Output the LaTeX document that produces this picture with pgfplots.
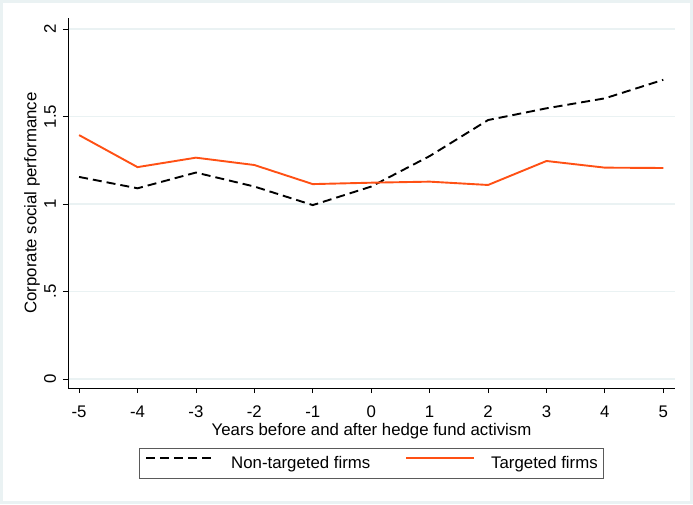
\documentclass[border=0pt]{standalone}
\usepackage{pgfplots}
\pgfplotsset{compat=1.18}
\usepackage{fontspec}
\setmainfont{Liberation Sans}
\definecolor{stgrid}{RGB}{234,242,243}
\definecolor{storange}{RGB}{255,80,20}
\definecolor{stframe}{RGB}{90,90,90}
\begin{document}
\fontsize{16.8}{20}\selectfont
\begin{tikzpicture}
\fill[stgrid] (-68pt,-116pt) rectangle (625pt,388pt);
\fill[white] (-65pt,-113pt) rectangle (622pt,385pt);
\path[use as bounding box] (-68pt,-116pt) rectangle (625pt,388pt);
\begin{axis}[
  scale only axis, width=607pt, height=370pt,
  xmin=-5.19, xmax=5.2, ymin=-0.051, ymax=2.063,
  axis x line*=bottom, axis y line*=left,
  axis line style={-, line width=0.8pt, black},
  xtick={-5,-4,-3,-2,-1,0,1,2,3,4,5},
  ytick={0,0.5,1,1.5,2}, yticklabels={0,.5,1,1.5,2},
  tick align=outside, major tick length=5pt,
  tick style={black, line width=0.8pt},
  ymajorgrids, grid style={stgrid, line width=1.2pt},
  /pgf/number format/assume math mode=true,
  xticklabel style={anchor=base, inner sep=0pt, yshift=-24pt},
  yticklabel shift=7pt,
  yticklabel style={rotate=90, anchor=base, inner sep=0pt},
  every axis x label/.style={at={(axis description cs:0.5,0)}, yshift=-43pt, anchor=center},
  every axis y label/.style={at={(axis description cs:0,0.5)}, xshift=-36pt, anchor=center, rotate=90},
  xlabel={Years before and after hedge fund activism},
  ylabel={Corporate social performance},
  legend columns=2,
  legend style={at={(axis description cs:0.5,0)}, yshift=-75.5pt, anchor=center,
    draw=stframe, line width=0.8pt, inner xsep=6pt, inner ysep=8pt,
    column sep=0pt, nodes={inner sep=0pt},
    /tikz/every even column/.append style={column sep=35pt}},
  legend image code/.code={\draw[#1, line width=1.9pt] (0pt,0.32em) -- (68pt,0.32em); \path (84pt,0pt);},
]
\addplot[black, line width=1.9pt, dash pattern=on 9pt off 5pt] coordinates {
  (-5,1.155) (-4,1.09) (-3,1.18) (-2,1.10) (-1,0.994) (0,1.10)
  (1,1.274) (2,1.48) (3,1.547) (4,1.604) (5,1.71)};
\addlegendentry{Non-targeted firms}
\addplot[storange, line width=1.9pt] coordinates {
  (-5,1.394) (-4,1.211) (-3,1.265) (-2,1.223) (-1,1.114) (0,1.122)
  (1,1.128) (2,1.109) (3,1.246) (4,1.208) (5,1.206)};
\addlegendentry{Targeted firms}
\end{axis}
\end{tikzpicture}
\end{document}
